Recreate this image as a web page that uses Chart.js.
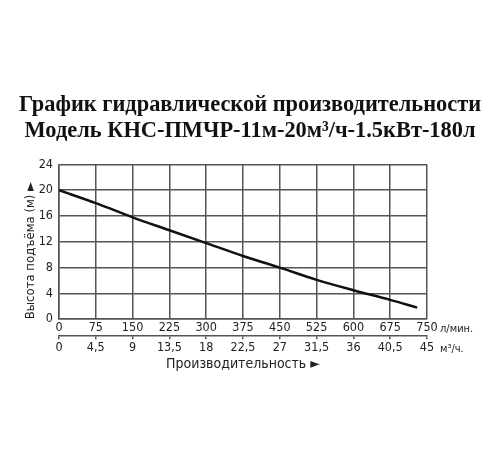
<!DOCTYPE html>
<html>
<head>
<meta charset="utf-8">
<script src="https://cdn.jsdelivr.net/npm/chart.js@4/dist/chart.umd.min.js"></script>
<style>
html,body{margin:0;padding:0;background:#fff;}
#wrap{width:500px;height:450px;}
</style>
</head>
<body>
<div id="wrap"><canvas id="c" width="500" height="450"></canvas></div>
<script>
const titleLines = ['График гидравлической производительности', 'Модель КНС-ПМЧР-11м-20м³/ч-1.5кВт-180л'];
const flowLpm = [0, 75, 150, 225, 300, 375, 450, 525, 600, 675, 730];
const headM = [20, 18, 15.8, 13.8, 11.8, 9.8, 8.0, 6.1, 4.5, 3.0, 1.8];
const xTickValues = [0, 75, 150, 225, 300, 375, 450, 525, 600, 675, 750];
const xTickLabels = ['0', '75', '150', '225', '300', '375', '450', '525', '600', '675', '750'];
const x2TickValues = [0, 4.5, 9, 13.5, 18, 22.5, 27, 31.5, 36, 40.5, 45];
const x2TickLabels = ['0', '4,5', '9', '13,5', '18', '22,5', '27', '31,5', '36', '40,5', '45'];
const yTickValues = [0, 4, 8, 12, 16, 20, 24];
const yTickLabels = ['0', '4', '8', '12', '16', '20', '24'];
const yTitle = 'Высота подъёма (м) ►';
const xTitle = 'Производительность ►';
const unit1 = 'л/мин.';
const unit2 = 'м³/ч.';

const GRID = '#555';
const TXT = '#222';
const FONT = "'DejaVu Sans Condensed', 'DejaVu Sans', sans-serif";
const TICK_SIZE = 12.5;

const unitsPlugin = {
  id: 'units',
  afterDraw(chart) {
    const ctx = chart.ctx;
    const x = chart.scales.x, x2 = chart.scales.x2;
    ctx.save();
    ctx.fillStyle = TXT;
    ctx.font = '11px ' + FONT;
    ctx.textAlign = 'left';
    ctx.textBaseline = 'middle';
    const px1 = x.getPixelForValue(750) + 13;
    ctx.fillText(unit1, px1, x.top + 1 + TICK_SIZE * 0.75);
    const px2 = x2.getPixelForValue(45) + 13;
    ctx.fillText(unit2, px2, x2.top + 3 + 1 + TICK_SIZE * 0.75);
    ctx.restore();
  }
};

new Chart(document.getElementById('c'), {
  type: 'line',
  data: {
    datasets: [{
      data: flowLpm.map((v, i) => ({x: v, y: headM[i]})),
      borderColor: '#111',
      borderWidth: 2.5,
      pointRadius: 0,
      cubicInterpolationMode: 'monotone',
      fill: false
    }]
  },
  options: {
    responsive: false,
    animation: false,
    devicePixelRatio: 1,
    layout: {padding: {left: 0, right: 0, top: 0, bottom: 77}},
    plugins: {
      legend: {display: false},
      tooltip: {enabled: false},
      title: {
        display: true,
        text: titleLines,
        color: '#111',
        font: {family: "'Liberation Serif', 'Times New Roman', serif", size: 22.4, weight: 'bold', lineHeight: 1.17},
        padding: {top: 92, bottom: 20}
      }
    },
    scales: {
      x: {
        type: 'linear',
        position: 'bottom',
        min: 0, max: 750,
        afterBuildTicks: s => { s.ticks = xTickValues.map(v => ({value: v})); },
        ticks: {
          callback: (v, i) => xTickLabels[i],
          color: TXT, font: {family: FONT, size: TICK_SIZE}, padding: 1, maxRotation: 0
        },
        grid: {color: GRID, lineWidth: 1.5, drawTicks: false},
        border: {color: GRID, width: 1.5}
      },
      x2: {
        type: 'linear',
        position: 'bottom',
        min: 0, max: 45,
        afterBuildTicks: s => { s.ticks = x2TickValues.map(v => ({value: v})); },
        ticks: {
          callback: (v, i) => x2TickLabels[i],
          color: TXT, font: {family: FONT, size: TICK_SIZE}, padding: 1, maxRotation: 0
        },
        grid: {drawOnChartArea: false, color: GRID, lineWidth: 1.5, tickLength: 3},
        border: {color: GRID, width: 1.5},
        title: {display: true, text: xTitle, color: TXT, font: {family: FONT, size: 14}, padding: {top: 0, bottom: 0}}
      },
      y: {
        type: 'linear',
        min: 0, max: 24,
        afterBuildTicks: s => { s.ticks = yTickValues.map(v => ({value: v})); },
        afterFit: s => { s.width = 59; },
        ticks: {
          callback: (v, i) => yTickLabels[i],
          color: TXT, font: {family: FONT, size: TICK_SIZE}, padding: 6
        },
        grid: {color: GRID, lineWidth: 1.5, drawTicks: false},
        border: {color: GRID, width: 1.5},
        title: {display: true, text: yTitle, align: 'start', color: TXT, font: {family: FONT, size: 13}, padding: {top: 23, bottom: 0}}
      },
      yPad: {
        type: 'linear',
        position: 'right',
        min: 0, max: 24,
        display: true,
        afterFit: s => { s.width = 73; },
        ticks: {display: false},
        grid: {display: false, drawOnChartArea: false, drawTicks: false},
        border: {display: false}
      }
    }
  },
  plugins: [unitsPlugin]
});
</script>
</body>
</html>
